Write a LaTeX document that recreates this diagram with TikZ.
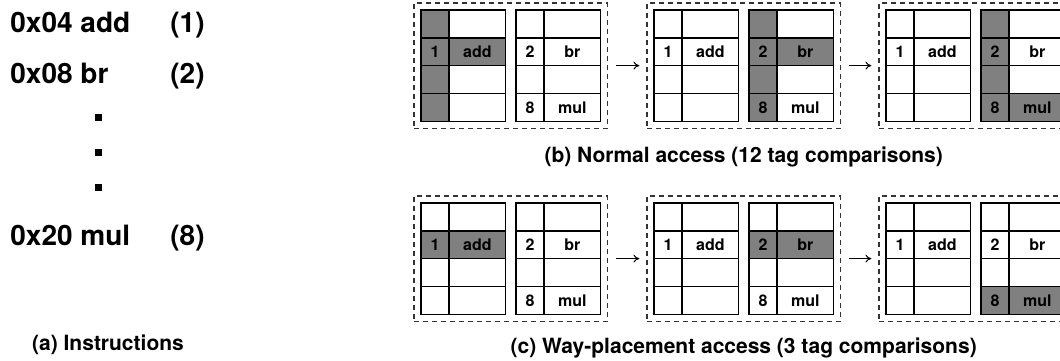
\documentclass[tikz,border=0pt]{standalone}
\usepackage{fontspec}
\setmainfont{TeX Gyre Heros}
\usepackage{tikz}
\usetikzlibrary{matrix, fit, positioning, arrows.meta}
\tikzset{
    way/.style={
        matrix of nodes,
        nodes in empty cells,
        ampersand replacement=\&,
        nodes={
            draw=black,
            line width=0.6pt,
            minimum height=13.75pt,
            anchor=center,
            inner sep=0pt,
            font=\fontsize{8}{9}\selectfont\bfseries
        },
        column 1/.style={nodes={minimum width=14pt}},
        column 2/.style={nodes={minimum width=28pt}},
        column sep=-\pgflinewidth,
        row sep=-\pgflinewidth,
        inner sep=0pt,
        anchor=north west
    },
    hit/.style={fill=black!50},
    panel/.style={rectangle, draw=black!80, dashed, dash pattern=on 2.5pt off 2pt, line width=0.6pt, inner sep=3pt},
    flow/.style={-{To[length=3pt, width=4pt]}, line width=0.5pt, shorten <=4pt, shorten >=3.5pt},
    instr/.style={anchor=base west, inner sep=0pt, font=\fontsize{14}{16}\selectfont\bfseries},
    dotsq/.style={rectangle, fill=black, minimum size=3.5pt, inner sep=0pt},
    caption/.style={anchor=base, inner sep=0pt, font=\fontsize{10.5}{12}\selectfont\bfseries}
}
% way holding add (tag 1)
\newcommand{\wayA}[4]{%
    \matrix[way] (#1) at (#2) {
        |[#3]| \& \\
        |[#3,#4]| 1 \& |[#4]| add \\
        |[#3]| \& \\
        |[#3]| \& \\
    };
}
% way holding br (tag 2) and mul (tag 8)
\newcommand{\wayB}[5]{%
    \matrix[way] (#1) at (#2) {
        |[#3]| \& \\
        |[#3,#4]| 2 \& |[#4]| br \\
        |[#3]| \& \\
        |[#3,#5]| 8 \& |[#5]| mul \\
    };
}

\begin{document}
\begin{tikzpicture}[x=0.5pt, y=-0.5pt]
    \useasboundingbox (0,0) rectangle (1060,360);

    % (a) instructions
    \node[instr] (i1) at (10,32) {0x04 add};
    \node[instr] (n1) at (170,32) {(1)};
    \node[instr] (i2) at (10,83) {0x08 br};
    \node[instr] (n2) at (170,83) {(2)};
    \foreach \y/\k in {117/1, 152/2, 187/3} {
        \node[dotsq] (d\k) at (98,\y) {};
    }
    \node[instr] (i8) at (10,245) {0x20 mul};
    \node[instr] (n8) at (170,245) {(8)};
    \node[caption] (capa) at (108,350) {(a) Instructions};

    % (b) normal access
    \wayA{b1a}{420,9}{hit}{hit}
    \wayB{b1b}{515,9}{}{}{}
    \wayA{b2a}{653,9}{}{}
    \wayB{b2b}{748,9}{hit}{hit}{}
    \wayA{b3a}{885,9}{}{}
    \wayB{b3b}{980,9}{hit}{}{hit}
    \foreach \n in {1,2,3} {
        \node[panel, fit=(b\n a)(b\n b)] (b\n) {};
    }
    \draw[flow] (b1) -- (b2);
    \draw[flow] (b2) -- (b3);
    \node[caption] (capb) at ([yshift=-17pt]b2.south) {(b) Normal access (12 tag comparisons)};

    % (c) way-placement access
    \wayA{c1a}{420,202}{}{hit}
    \wayB{c1b}{515,202}{}{}{}
    \wayA{c2a}{653,202}{}{}
    \wayB{c2b}{748,202}{}{hit}{}
    \wayA{c3a}{885,202}{}{}
    \wayB{c3b}{980,202}{}{}{hit}
    \foreach \n in {1,2,3} {
        \node[panel, fit=(c\n a)(c\n b)] (c\n) {};
    }
    \draw[flow] (c1) -- (c2);
    \draw[flow] (c2) -- (c3);
    \node[caption] (capc) at ([yshift=-16pt]c2.south) {(c) Way-placement access (3 tag comparisons)};
\end{tikzpicture}
\end{document}
